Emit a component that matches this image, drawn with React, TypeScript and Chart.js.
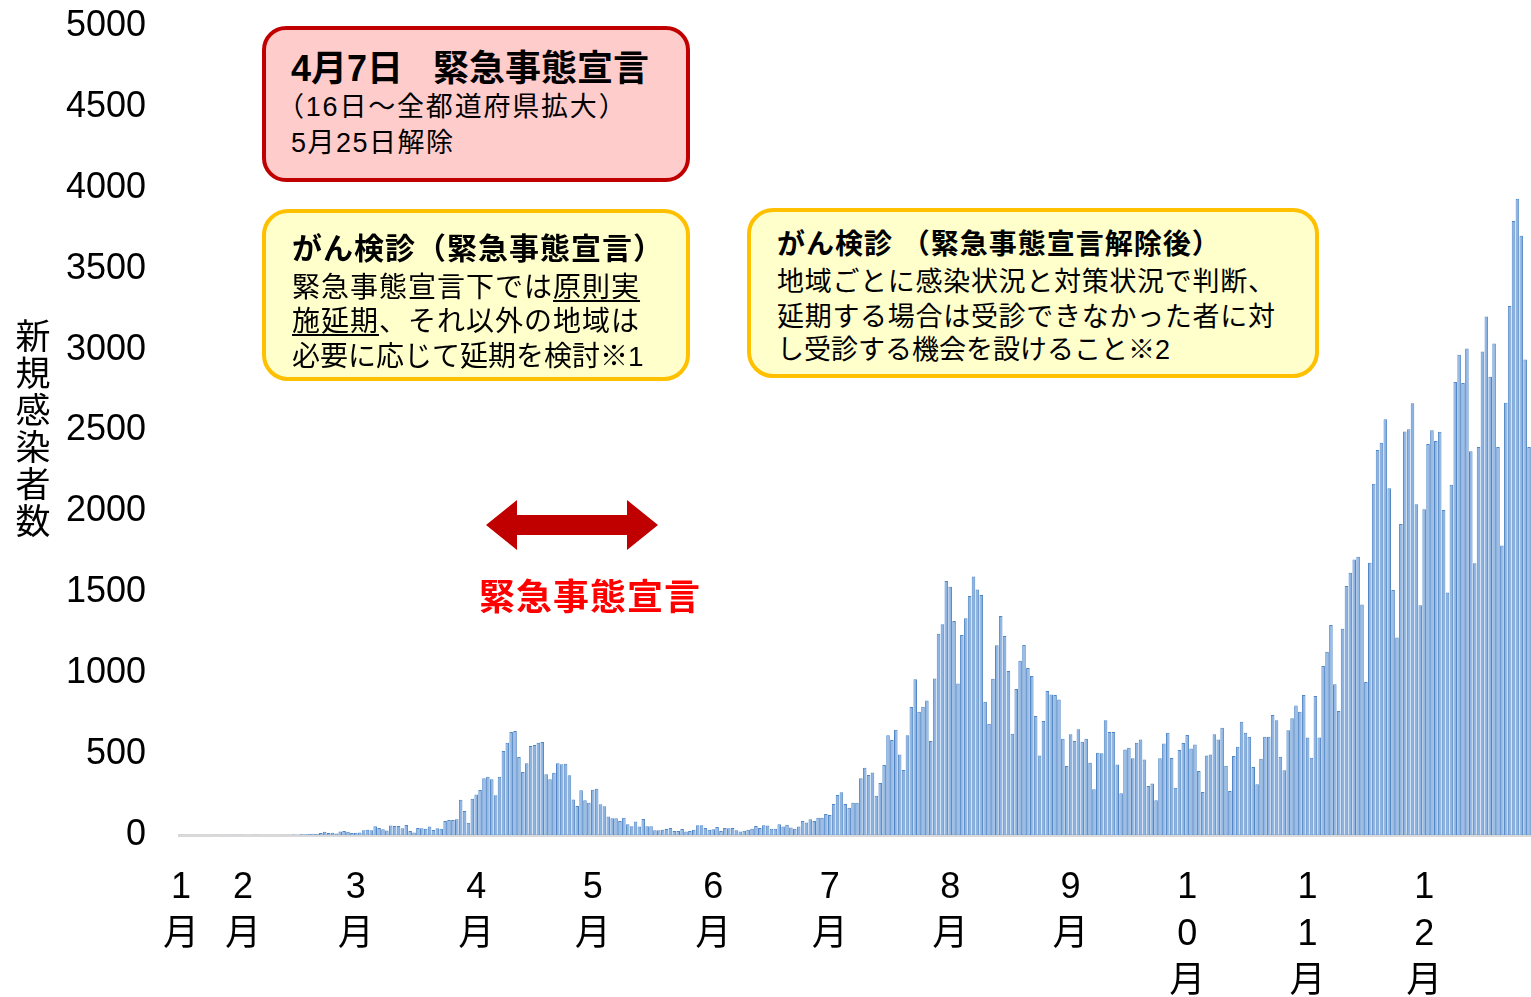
import React, { useEffect, useRef } from "react";
import { Chart, registerables } from "chart.js";

Chart.register(...registerables);

const FONT = "'Liberation Sans', 'Noto Sans CJK JP', sans-serif";

// Daily new cases, 2020-01-16 .. 2020-12-28 (one array per month)
const janCases = [1, 0, 0, 0, 0, 0, 0, 0, 1, 1, 1, 0, 2, 1, 2, 1];
const febCases = [1, 0, 0, 1, 1, 0, 0, 0, 0, 0, 1, 2, 1, 3, 2, 4, 5, 6, 8, 7, 12, 20, 12, 14, 10, 22, 24, 20, 12];
const marCases = [14, 15, 30, 33, 30, 54, 44, 35, 28, 59, 55, 55, 41, 62, 25, 15, 44, 42, 38, 52, 31, 42, 39, 87, 93, 93, 97, 218, 148, 76, 224];
const aprCases = [251, 278, 350, 360, 344, 245, 360, 519, 570, 636, 643, 482, 389, 443, 550, 556, 570, 575, 375, 344, 385, 443, 437, 441, 369, 220, 179, 276, 214, 200];
const mayCases = [280, 286, 190, 177, 115, 103, 103, 87, 107, 66, 54, 84, 52, 99, 54, 54, 29, 29, 33, 37, 43, 25, 25, 37, 21, 25, 33, 60, 60, 43, 33];
const junCases = [35, 49, 25, 43, 41, 43, 29, 21, 27, 33, 39, 56, 43, 60, 58, 39, 39, 66, 52, 64, 47, 39, 52, 87, 78, 97, 87, 107, 107, 130];
const julCases = [124, 192, 247, 264, 192, 169, 200, 200, 350, 416, 371, 387, 243, 321, 432, 616, 587, 651, 498, 402, 616, 791, 962, 762, 793, 832, 581, 968, 1244, 1302, 1570];
const augCases = [1535, 1323, 937, 1236, 1339, 1477, 1597, 1518, 1483, 824, 688, 966, 1172, 1353, 1230, 1013, 626, 902, 1077, 1174, 1032, 983, 735, 492, 704, 890, 869, 865, 838, 595, 426];
const sepCases = [622, 581, 653, 577, 595, 447, 282, 509, 505, 709, 636, 636, 435, 258, 529, 540, 474, 570, 591, 466, 303, 319, 214, 474, 566, 632, 476, 292, 525, 568];
const octCases = [618, 535, 560, 396, 266, 492, 498, 622, 591, 663, 428, 272, 488, 546, 700, 632, 608, 420, 313, 472, 608, 608, 742, 709, 484, 400, 647, 721, 801, 762, 865];
const novCases = [602, 478, 859, 602, 1044, 1133, 1298, 931, 766, 1275, 1539, 1621, 1702, 1720, 1425, 946, 1683, 2171, 2379, 2425, 2569, 2143, 1514, 1220, 1922, 2494, 2507, 2669, 2044, 1420];
const decCases = [2013, 2416, 2502, 2435, 2492, 2008, 1498, 2164, 2799, 2968, 2793, 3007, 2372, 1680, 2398, 2989, 3204, 2832, 3038, 2398, 1790, 2671, 3270, 3795, 3933, 3704, 2939, 2398];

const monthCases = [janCases, febCases, marCases, aprCases, mayCases, junCases, julCases, augCases, sepCases, octCases, novCases, decCases];
const monthFirstDay = [16, 1, 1, 1, 1, 1, 1, 1, 1, 1, 1, 1];
const monthTickLabels: string[][] = [
  ["1", "月"], ["2", "月"], ["3", "月"], ["4", "月"], ["5", "月"], ["6", "月"],
  ["7", "月"], ["8", "月"], ["9", "月"], ["1", "0", "月"], ["1", "1", "月"], ["1", "2", "月"],
];

const yMin = 0;
const yMax = 5000;
const yStep = 500;
const yTitle = "新規感染者数";

const dayLabels: string[] = [];
const dayValues: number[] = [];
const tickText: (string | string[])[] = [];
monthCases.forEach((arr, m) => {
  arr.forEach((v, d) => {
    dayLabels.push(`${m + 1}/${monthFirstDay[m] + d}`);
    dayValues.push(v);
    tickText.push(d === 0 ? monthTickLabels[m] : "");
  });
});

type LineProps = {
  x: number;
  cy: number;
  size: number;
  bold?: boolean;
  spacing?: number;
  color?: string;
  children: React.ReactNode;
};

function TextLine({ x, cy, size, bold, spacing, color, children }: LineProps) {
  const lh = Math.round(size * 1.3);
  return (
    <div
      style={{
        position: "absolute",
        left: x,
        top: cy - lh / 2,
        fontSize: size,
        lineHeight: `${lh}px`,
        fontWeight: bold ? 700 : 400,
        letterSpacing: spacing ?? 0,
        whiteSpace: "nowrap",
        fontFamily: FONT,
        color: color ?? "#000",
      }}
    >
      {children}
    </div>
  );
}

function Box({ x, y, w, h, border, bg, radius }: { x: number; y: number; w: number; h: number; border: string; bg: string; radius: number }) {
  return (
    <div
      style={{
        position: "absolute",
        left: x,
        top: y,
        width: w,
        height: h,
        boxSizing: "border-box",
        border: `4px solid ${border}`,
        borderRadius: radius,
        background: bg,
      }}
    />
  );
}

const U = ({ children }: { children: React.ReactNode }) => (
  <span style={{ textDecoration: "underline", textDecorationThickness: 2, textUnderlineOffset: 3 }}>{children}</span>
);

export default function App() {
  const canvasRef = useRef<HTMLCanvasElement | null>(null);

  useEffect(() => {
    if (!canvasRef.current) return;
    const chart = new Chart(canvasRef.current, {
      type: "bar",
      data: {
        labels: dayLabels,
        datasets: [
          {
            data: dayValues,
            backgroundColor: "#8CB3E2",
            borderColor: "#5187C7",
            borderWidth: 1,
            categoryPercentage: 1,
            barPercentage: 0.92,
          },
        ],
      },
      options: {
        animation: false,
        responsive: true,
        maintainAspectRatio: false,
        layout: { padding: { top: 26, right: 0, left: 0, bottom: 0 } },
        plugins: {
          legend: { display: false },
          tooltip: { enabled: false },
          title: { display: false },
        },
        scales: {
          x: {
            type: "category",
            offset: true,
            grid: { display: false, drawTicks: false },
            border: { display: true, color: "#D9D9D9", width: 3 },
            ticks: {
              autoSkip: false,
              maxRotation: 0,
              minRotation: 0,
              padding: 30,
              color: "#000",
              font: { family: FONT, size: 36, lineHeight: 1.3 },
              callback: (_v: any, i: number) => tickText[i],
            },
            afterFit: (s: any) => {
              s.height = 162;
              s.paddingLeft = 0;
              s.paddingRight = 0;
            },
          },
          y: {
            min: yMin,
            max: yMax,
            grid: { display: false, drawTicks: false },
            border: { display: false },
            ticks: {
              stepSize: yStep,
              padding: 33,
              color: "#000",
              font: { family: FONT, size: 36 },
              callback: (v: any) => String(v),
            },
            afterFit: (s: any) => {
              s.width = 179;
              s.paddingTop = 0;
              s.paddingBottom = 0;
            },
          },
        },
      },
    });
    return () => chart.destroy();
  }, []);

  return (
    <div style={{ position: "fixed", left: 0, top: 0, width: 1531, height: 997, background: "#fff", overflow: "hidden" }}>
      <div style={{ position: "absolute", left: 0, top: 0, width: 1531, height: 997 }}>
        <canvas ref={canvasRef} />
      </div>

      {/* y-axis title, stacked vertically */}
      <div
        style={{
          position: "absolute",
          left: 13,
          top: 318,
          width: 40,
          fontSize: 35,
          lineHeight: "37px",
          fontFamily: FONT,
          textAlign: "center",
          color: "#000",
        }}
      >
        {yTitle.split("").map((c, i) => (
          <div key={i}>{c}</div>
        ))}
      </div>

      {/* red box */}
      <Box x={262} y={26} w={428} h={156} border="#C00000" bg="#FFCCCC" radius={24} />
      <TextLine x={291} cy={68} size={36} bold>
        4月7日
      </TextLine>
      <TextLine x={433} cy={68} size={36} bold>
        緊急事態宣言
      </TextLine>
      <TextLine x={277} cy={107} size={27} spacing={1.8}>
        （16日～全都道府県拡大）
      </TextLine>
      <TextLine x={291} cy={143} size={27} spacing={1.5}>
        5月25日解除
      </TextLine>

      {/* left yellow box */}
      <Box x={262} y={209} w={428} h={172} border="#FFC000" bg="#FFFFCC" radius={26} />
      <TextLine x={292} cy={248} size={30} bold spacing={1}>
        がん検診（緊急事態宣言）
      </TextLine>
      <TextLine x={292} cy={288} size={28} spacing={1}>
        緊急事態宣言下では<U>原則実</U>
      </TextLine>
      <TextLine x={292} cy={322} size={28} spacing={1}>
        <U>施延期</U>、それ以外の地域は
      </TextLine>
      <TextLine x={292} cy={357} size={28} spacing={0}>
        必要に応じて延期を検討※1
      </TextLine>

      {/* right yellow box */}
      <Box x={747} y={208} w={572} h={170} border="#FFC000" bg="#FFFFCC" radius={26} />
      <TextLine x={777} cy={245} size={28} bold spacing={1}>
        がん検診 （緊急事態宣言解除後）
      </TextLine>
      <TextLine x={777} cy={282} size={27} spacing={0.7}>
        地域ごとに感染状況と対策状況で判断、
      </TextLine>
      <TextLine x={777} cy={317} size={27} spacing={0.7}>
        延期する場合は受診できなかった者に対
      </TextLine>
      <TextLine x={777} cy={350} size={27} spacing={0}>
        し受診する機会を設けること※2
      </TextLine>

      {/* double arrow */}
      <svg style={{ position: "absolute", left: 484, top: 498 }} width={176} height={54} viewBox="0 0 176 54">
        <polygon
          points="2,27 33,2 33,17 143,17 143,2 174,27 143,52 143,37 33,37 33,52"
          fill="#C00000"
        />
      </svg>
      <TextLine x={479} cy={597} size={36} bold spacing={1} color="#FF0000">
        緊急事態宣言
      </TextLine>
    </div>
  );
}
